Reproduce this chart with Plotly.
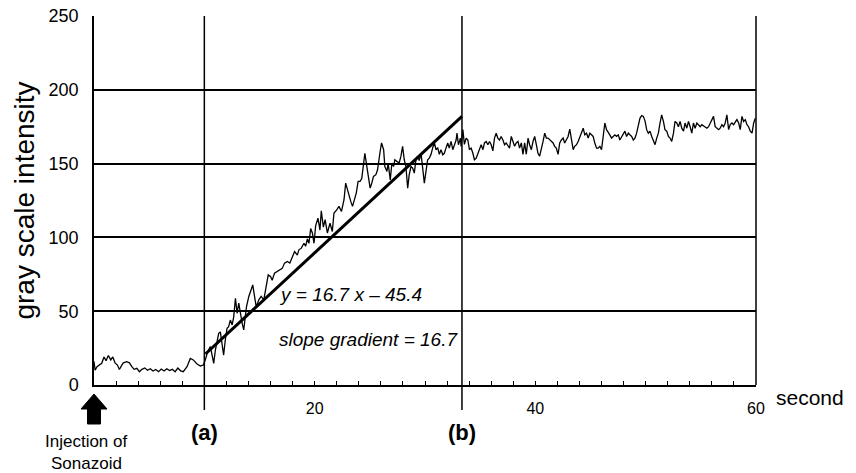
import plotly.graph_objects as go

# ---------------- data ----------------
t_baseline = [0.0, 0.1, 0.27, 0.45, 0.7, 0.91, 1.09, 1.3, 1.52, 1.7, 1.91, 2.12, 2.3, 2.52, 2.66,
              2.97, 3.21, 3.43, 3.64, 3.88, 4.12, 4.34, 4.6, 4.85, 5.1, 5.35, 5.6, 5.85, 6.1, 6.35,
              6.6, 6.85, 7.1, 7.35, 7.6, 7.85, 8.09, 8.43, 8.73, 9.0, 9.34, 9.64, 9.91]
y_baseline = [16, 10, 12.4, 13.5, 14.7, 19, 16.5, 20, 17, 19, 15, 13.5, 10.5, 13.5, 15,
              15.8, 15, 12.4, 10.6, 11.3, 9, 10.6, 11.5, 10, 11, 9.5, 10.5, 9, 10.8, 9.5,
              11, 9.8, 10.6, 9, 11.5, 9.6, 9, 12.4, 18, 17, 14.2, 12.9, 13.5]

t_rise = [10.09, 10.3, 10.55, 10.7, 10.85, 11.0, 11.15, 11.3, 11.45, 11.6, 11.75, 11.9, 12.06, 12.2,
          12.36, 12.52, 12.66, 12.82, 12.97, 13.12, 13.27, 13.43, 13.57, 13.82, 14.03, 14.25, 14.39,
          14.55, 14.7, 14.94, 15.15, 15.39, 15.64, 15.79, 16.0, 16.15, 16.36, 16.61, 16.85, 17.06,
          17.27, 17.52, 17.75, 17.97, 18.18, 18.43, 18.57, 18.79, 19.03, 19.18, 19.34, 19.48, 19.64,
          19.79, 19.94, 20.09, 20.3, 20.48, 20.6, 20.79, 20.95, 21.15, 21.39, 21.6, 21.75, 22.0,
          22.2, 22.43, 22.66, 22.81, 22.97, 23.12, 23.27, 23.43, 23.57, 23.77, 23.94, 24.12, 24.27,
          24.43, 24.55, 24.73, 24.88, 25.03, 25.18, 25.33, 25.55, 25.7, 25.91, 26.06, 26.25, 26.36,
          26.55, 26.66, 26.85, 27.0, 27.15, 27.27, 27.45, 27.66, 27.82, 27.97, 28.12, 28.27, 28.43,
          28.57, 28.73, 28.88, 29.03, 29.18, 29.34, 29.48, 29.64, 29.79, 29.94, 30.09, 30.24, 30.39,
          30.55, 30.7, 30.85, 31.0, 31.15, 31.3, 31.45, 31.61, 31.75, 31.9, 32.06, 32.2, 32.36,
          32.52, 32.66, 32.82, 32.9, 33.03, 33.21, 33.27]
y_rise = [17, 22.6, 26, 20.3, 14.7, 23.7, 30.5, 35, 36, 28.2, 20.3, 30.5, 38.4, 39.5,
          44, 40.7, 46, 58.8, 48.6, 55.4, 47.5, 41.8, 37.3, 53, 60, 65.6, 67.8,
          60, 53, 57.7, 60, 57.7, 67.8, 74.6, 73.5, 71, 75.8, 77, 78, 79,
          82.6, 83.7, 82.6, 86, 90.4, 88, 91.6, 92.7, 96, 94, 99, 96, 106,
          103, 96, 108, 113, 105, 118, 107, 112, 103, 109.6, 104, 116.5, 118.7,
          121, 117.6, 125.5, 136.8, 132.3, 127.7, 124.4, 121, 125.5, 130, 138, 138, 140,
          148, 157, 148, 139, 133.4, 136.8, 141.3, 142.5, 145.8, 157, 164, 159.4, 148,
          144.7, 150.4, 139, 150.4, 148, 152.6, 151.5, 150.4, 155, 161.7, 152.6, 148, 133.4,
          142.5, 148, 147, 143.6, 152.6, 155, 152, 157, 147, 136.8, 144.7, 152.6, 153.7,
          156.3, 160.8, 164, 159.4, 160.8, 156.3, 159.4, 156, 157, 160.5, 164, 160.5, 165,
          159.4, 162.8, 166, 170.6, 162.8, 167.3, 161.7]

t_plateau = [33.43, 33.57, 33.73, 33.88, 34.03, 34.18, 34.34, 34.48, 34.64, 34.79, 34.94, 35.09,
             35.25, 35.39, 35.55, 35.7, 35.85, 36.0, 36.15, 36.3, 36.45, 36.6, 36.75, 36.9, 37.06,
             37.21, 37.36, 37.52, 37.66, 37.82, 37.97, 38.12, 38.27, 38.43, 38.57, 38.73, 38.88,
             39.03, 39.18, 39.34, 39.48, 39.64, 39.79, 39.94, 40.09, 40.24, 40.39, 40.55, 40.7,
             40.85, 41.0, 41.15, 41.3, 41.45, 41.61, 41.75, 41.9, 42.06, 42.21, 42.36, 42.52,
             42.66, 42.82, 42.97, 43.12, 43.27, 43.43, 43.57, 43.73, 43.88, 44.03, 44.18, 44.34,
             44.48, 44.64, 44.79, 44.94, 45.09, 45.24, 45.39, 45.55, 45.7, 45.85, 46.0, 46.15,
             46.3, 46.45, 46.61, 46.75, 46.91, 47.06, 47.21, 47.36, 47.52, 47.66, 47.82, 47.97,
             48.12, 48.27, 48.43, 48.57, 48.73, 48.88, 49.03, 49.18, 49.34, 49.48, 49.64, 49.79,
             49.94, 50.09, 50.24, 50.39, 50.55, 50.7, 50.85, 51.0, 51.15, 51.3, 51.45, 51.61,
             51.75, 51.91, 52.06, 52.21, 52.36, 52.52, 52.66, 52.82, 52.97, 53.12, 53.27, 53.43,
             53.57, 53.73, 53.88, 54.03, 54.18, 54.33, 54.48, 54.64, 54.79, 54.94, 55.09, 55.24,
             55.39, 55.55, 55.7, 55.85, 56.0, 56.15, 56.3, 56.45, 56.61, 56.75, 56.91, 57.06,
             57.21, 57.36, 57.52, 57.66, 57.82, 57.97, 58.12, 58.27, 58.43, 58.57, 58.73, 58.88,
             59.03, 59.18, 59.33, 59.48, 59.64, 59.79, 59.94]
y_plateau = [173, 163, 167.3, 166, 159.4, 160.5, 157, 152.6, 153.7, 157, 159.4, 162.8,
             159.4, 164, 165, 162.8, 165, 162.8, 158.6, 167.3, 170.6, 167.3, 166, 168.4, 166,
             162.8, 164, 161.7, 160.5, 168.4, 165, 161.7, 164, 165, 160.5, 164, 156.3,
             164, 156.3, 167.3, 162.8, 159.4, 165, 168.4, 162.8, 157, 155, 159.4, 165,
             170.6, 167.3, 167.3, 166, 165, 164, 161.7, 160.5, 156.3, 164, 166, 167.3,
             164, 166, 168.4, 173.4, 167.3, 159.4, 161.7, 162.8, 165, 168.4, 170.6, 174,
             169.5, 170.6, 167.3, 170.6, 169.5, 168.4, 164, 160.5, 160.5, 161.7, 159.4, 168.4,
             177.5, 173, 170.6, 169.5, 167.3, 168.4, 169.5, 168.4, 169.5, 166, 168.4, 170.6,
             172, 168.4, 170.6, 169.5, 168.4, 166, 167.3, 170.6, 175, 180.7, 182.5, 182,
             179, 173, 170.6, 172, 168.4, 166, 162.8, 167.3, 170.6, 177.5, 183, 178.6,
             173, 172, 168.4, 167.3, 165, 170.6, 178.6, 177.5, 175, 178.6, 174, 172,
             177.5, 174, 178.6, 175, 170.6, 177.5, 174, 177.5, 176.4, 175, 176.4, 175.7,
             175, 174, 175, 177.5, 179.8, 182, 175, 174, 173, 174, 176.4, 175,
             177.5, 183, 173, 176.4, 177.5, 176.4, 178.6, 179.8, 177.5, 173, 182, 178.6,
             179.8, 176.4, 175, 172, 170.6, 177.5, 180.7]

time_s = t_baseline + t_rise + t_plateau
intensity = y_baseline + y_rise + y_plateau

fit_x = [10.1, 33.35]
fit_y = [21, 182]

marker_a = 10.0
marker_b = 33.35

x_range = [0, 60]
y_range = [0, 250]
x_ticks = list(range(0, 61, 2))
x_labels = {20: "20", 40: "40", 60: "60"}
y_ticks = [0, 50, 100, 150, 200, 250]

FONT = "Arial, 'Liberation Sans', Helvetica, sans-serif"


def xp(v):
    return (v - x_range[0]) / (x_range[1] - x_range[0])


fig = go.Figure()
fig.add_trace(go.Scatter(x=time_s, y=intensity, mode="lines",
                         line=dict(color="black", width=1.3), showlegend=False))
fig.add_trace(go.Scatter(x=fit_x, y=fit_y, mode="lines",
                         line=dict(color="black", width=3), showlegend=False))

# vertical markers (a), (b) extending below the axis
for xv in (marker_a, marker_b):
    fig.add_shape(type="line", xref="paper", yref="paper", x0=xp(xv), x1=xp(xv), y0=-0.068, y1=1,
                  line=dict(color="black", width=1.5), layer="above")

# right border
fig.add_shape(type="line", xref="paper", yref="paper", x0=1, x1=1, y0=0, y1=1,
              line=dict(color="black", width=1.5))

# injection arrow (pixel-sized, anchored at x=0, bottom of plot)
fig.add_shape(type="path", xref="paper", yref="paper", xsizemode="pixel", ysizemode="pixel",
              xanchor=0, yanchor=0,
              path="M 0,-9 L 13,-24 L 6.5,-24 L 6.5,-39 L -6.5,-39 L -6.5,-24 L -13,-24 Z",
              fillcolor="black", line=dict(color="black", width=1))

for xv, label in ((marker_a, "(a)"), (marker_b, "(b)")):
    fig.add_annotation(xref="paper", yref="paper", x=xp(xv), y=-0.13, text=f"<b>{label}</b>",
                       showarrow=False, font=dict(size=22), xanchor="center", yanchor="middle")

fig.add_annotation(xref="paper", yref="paper", x=1.027, y=-0.035, text="second",
                   showarrow=False, font=dict(size=21), xanchor="left", yanchor="middle")

fig.add_annotation(xref="paper", yref="paper", x=-0.012, y=-0.152, text="Injection of",
                   showarrow=False, font=dict(size=17), xanchor="center", yanchor="middle")
fig.add_annotation(xref="paper", yref="paper", x=-0.012, y=-0.212, text="Sonazoid",
                   showarrow=False, font=dict(size=17), xanchor="center", yanchor="middle")

fig.add_annotation(xref="x", yref="y", x=16.6, y=61, text="<i>y = 16.7 x – 45.4</i>",
                   showarrow=False, xanchor="left", yanchor="middle", font=dict(size=19))
fig.add_annotation(xref="x", yref="y", x=16.6, y=30.5, text="<i>slope gradient = 16.7</i>",
                   showarrow=False, xanchor="left", yanchor="middle", font=dict(size=19))

fig.update_layout(
    width=856, height=473,
    margin=dict(l=94, r=100, t=16, b=88),
    paper_bgcolor="white", plot_bgcolor="white",
    font=dict(family=FONT, color="black"),
    xaxis=dict(range=x_range, tickvals=x_ticks, automargin=False,
               ticktext=[x_labels.get(v, "") for v in x_ticks],
               ticks="inside", ticklen=4, tickwidth=1.2, tickcolor="black",
               showgrid=False, zeroline=False, showline=True, linecolor="black", linewidth=1.5,
               tickfont=dict(size=16), ticklabelstandoff=8),
    yaxis=dict(range=y_range, tickvals=y_ticks, ticks="", showgrid=True, automargin=False,
               gridcolor="black", gridwidth=1.5, zeroline=False,
               showline=True, linecolor="black", linewidth=1.5,
               tickfont=dict(size=18), ticklabelstandoff=10,
               title=dict(text="gray scale intensity", font=dict(size=28), standoff=6)),
)

fig.write_html("out.html", config={"displayModeBar": False},
               post_script="document.body.style.margin='0';document.body.style.overflow='hidden';")
